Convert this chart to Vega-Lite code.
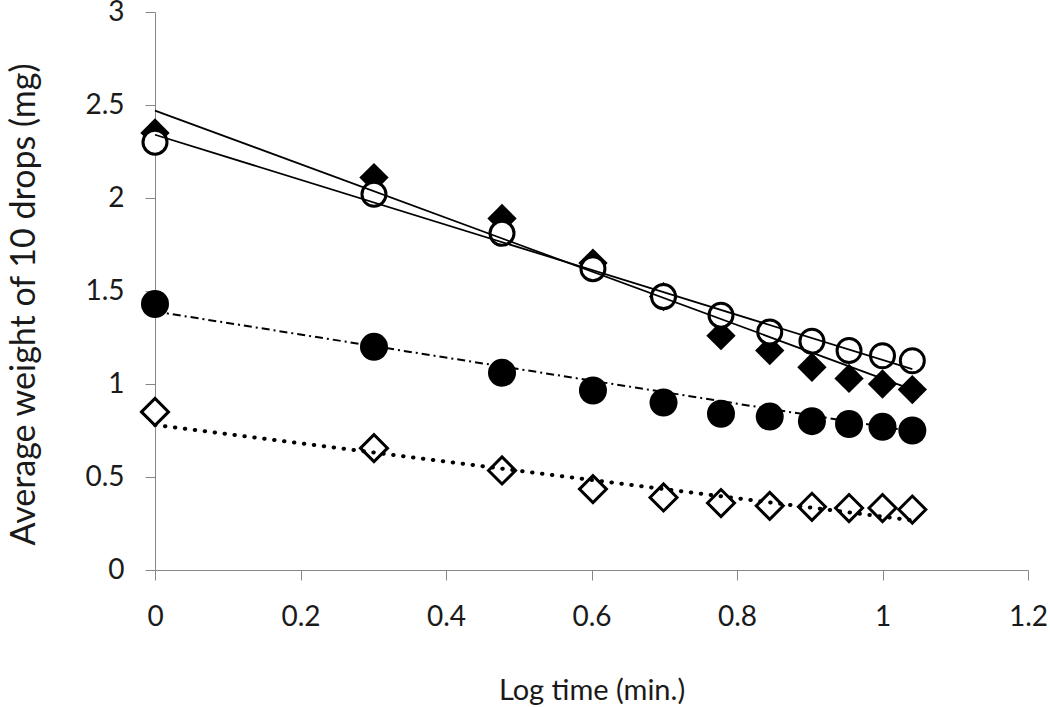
{
  "$schema": "https://vega.github.io/schema/vega-lite/v6.json",
  "width": 873,
  "height": 558,
  "autosize": {"type": "none"},
  "padding": {"left": 155, "top": 12, "right": 22, "bottom": 137},
  "background": "white",
  "config": {"view": {"stroke": null}, "font": "Lato"},
  "datasets": {
    "points": [
      {"series": "A", "x": 0, "y": 2.35},
      {"series": "A", "x": 0.301, "y": 2.11},
      {"series": "A", "x": 0.477, "y": 1.89},
      {"series": "A", "x": 0.602, "y": 1.65},
      {"series": "A", "x": 0.699, "y": 1.47},
      {"series": "A", "x": 0.778, "y": 1.26},
      {"series": "A", "x": 0.845, "y": 1.18},
      {"series": "A", "x": 0.903, "y": 1.09},
      {"series": "A", "x": 0.954, "y": 1.03},
      {"series": "A", "x": 1.0, "y": 1.0},
      {"series": "A", "x": 1.041, "y": 0.97},
      {"series": "B", "x": 0, "y": 2.30},
      {"series": "B", "x": 0.301, "y": 2.02},
      {"series": "B", "x": 0.477, "y": 1.81},
      {"series": "B", "x": 0.602, "y": 1.62},
      {"series": "B", "x": 0.699, "y": 1.47},
      {"series": "B", "x": 0.778, "y": 1.37},
      {"series": "B", "x": 0.845, "y": 1.28},
      {"series": "B", "x": 0.903, "y": 1.23},
      {"series": "B", "x": 0.954, "y": 1.18},
      {"series": "B", "x": 1.0, "y": 1.152},
      {"series": "B", "x": 1.041, "y": 1.125},
      {"series": "C", "x": 0, "y": 1.43},
      {"series": "C", "x": 0.301, "y": 1.2},
      {"series": "C", "x": 0.477, "y": 1.06},
      {"series": "C", "x": 0.602, "y": 0.965},
      {"series": "C", "x": 0.699, "y": 0.90},
      {"series": "C", "x": 0.778, "y": 0.84},
      {"series": "C", "x": 0.845, "y": 0.825},
      {"series": "C", "x": 0.903, "y": 0.80},
      {"series": "C", "x": 0.954, "y": 0.785},
      {"series": "C", "x": 1.0, "y": 0.77},
      {"series": "C", "x": 1.041, "y": 0.75},
      {"series": "D", "x": 0, "y": 0.85},
      {"series": "D", "x": 0.301, "y": 0.655},
      {"series": "D", "x": 0.477, "y": 0.535},
      {"series": "D", "x": 0.602, "y": 0.435},
      {"series": "D", "x": 0.699, "y": 0.39},
      {"series": "D", "x": 0.778, "y": 0.36},
      {"series": "D", "x": 0.845, "y": 0.345},
      {"series": "D", "x": 0.903, "y": 0.34},
      {"series": "D", "x": 0.954, "y": 0.333},
      {"series": "D", "x": 1.0, "y": 0.333},
      {"series": "D", "x": 1.041, "y": 0.325}
    ],
    "trend": [
      {"series": "A", "x": 0, "y": 2.47},
      {"series": "A", "x": 1.041, "y": 0.97},
      {"series": "B", "x": 0, "y": 2.34},
      {"series": "B", "x": 1.041, "y": 1.08},
      {"series": "C", "x": 0, "y": 1.39},
      {"series": "C", "x": 1.041, "y": 0.745},
      {"series": "D", "x": 0, "y": 0.78},
      {"series": "D", "x": 1.041, "y": 0.267}
    ]
  },
  "encoding": {
    "x": {
      "field": "x",
      "type": "quantitative",
      "scale": {"domain": [0, 1.2], "nice": false, "zero": false},
      "axis": {
        "title": "Log time (min.)",
        "values": [0, 0.2, 0.4, 0.6, 0.8, 1, 1.2],
        "format": "~g",
        "grid": false,
        "domainColor": "#868686",
        "tickColor": "#868686",
        "tickSize": 10,
        "labelFontSize": 28,
        "labelColor": "#1a1a1a",
        "labelBaseline": "alphabetic",
        "labelPadding": 45,
        "labelFlush": false,
        "labelOverlap": false,
        "titleFontSize": 29,
        "titleFontWeight": "normal",
        "titleColor": "#1a1a1a",
        "titleBaseline": "alphabetic",
        "titleY": 129
      }
    },
    "y": {
      "field": "y",
      "type": "quantitative",
      "scale": {"domain": [0, 3], "nice": false, "zero": false},
      "axis": {
        "title": "Average weight of 10 drops (mg)",
        "values": [0, 0.5, 1, 1.5, 2, 2.5, 3],
        "format": "~g",
        "grid": false,
        "domainColor": "#868686",
        "tickColor": "#868686",
        "tickSize": 10,
        "labelFontSize": 28,
        "labelColor": "#1a1a1a",
        "labelPadding": 21,
        "labelFlush": false,
        "labelOverlap": false,
        "titleFontSize": 34,
        "titleFontWeight": "normal",
        "titleColor": "#1a1a1a",
        "titleX": -114,
        "titleY": 292
      }
    }
  },
  "layer": [
    {
      "data": {"name": "points"},
      "transform": [{"filter": "datum.series === 'A'"}],
      "mark": {"type": "point", "shape": "diamond", "filled": true, "color": "black", "opacity": 1, "size": 860}
    },
    {
      "data": {"name": "points"},
      "transform": [{"filter": "datum.series === 'B'"}],
      "mark": {"type": "point", "shape": "circle", "filled": false, "fill": "white", "fillOpacity": 1, "stroke": "black", "strokeWidth": 3, "opacity": 1, "size": 576}
    },
    {
      "data": {"name": "points"},
      "transform": [{"filter": "datum.series === 'C'"}],
      "mark": {"type": "point", "shape": "circle", "filled": true, "color": "black", "opacity": 1, "size": 784}
    },
    {
      "data": {"name": "points"},
      "transform": [{"filter": "datum.series === 'D'"}],
      "mark": {"type": "point", "shape": "diamond", "filled": false, "fill": "white", "fillOpacity": 1, "stroke": "black", "strokeWidth": 3, "opacity": 1, "size": 729}
    },
    {
      "data": {"name": "trend"},
      "transform": [{"filter": "datum.series === 'A'"}],
      "mark": {"type": "line", "color": "black", "strokeWidth": 1.75}
    },
    {
      "data": {"name": "trend"},
      "transform": [{"filter": "datum.series === 'B'"}],
      "mark": {"type": "line", "color": "black", "strokeWidth": 1.75}
    },
    {
      "data": {"name": "trend"},
      "transform": [{"filter": "datum.series === 'C'"}],
      "mark": {"type": "line", "color": "black", "strokeWidth": 2, "strokeDash": [8, 4, 2, 4]}
    },
    {
      "data": {"name": "trend"},
      "transform": [{"filter": "datum.series === 'D'"}],
      "mark": {"type": "line", "color": "black", "strokeWidth": 4, "strokeCap": "round", "strokeDash": [0.5, 9.5]}
    }
  ]
}
